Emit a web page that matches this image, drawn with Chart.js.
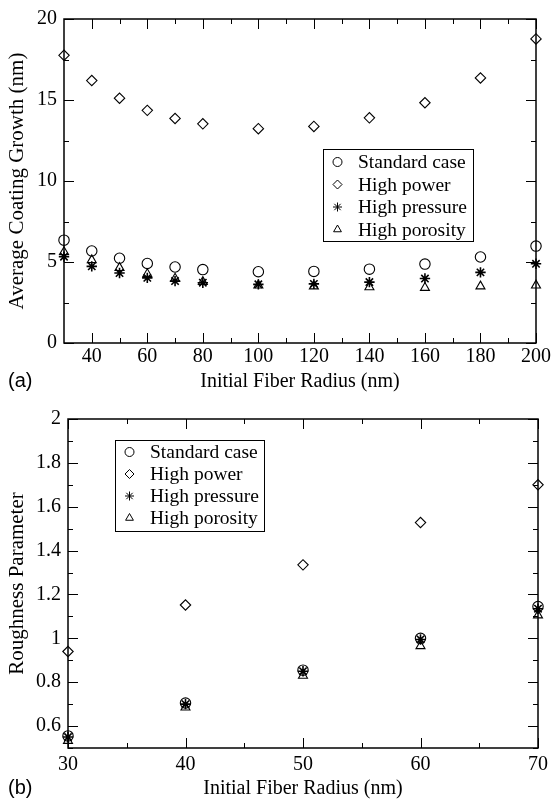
<!DOCTYPE html>
<html>
<head>
<meta charset="utf-8">
<script src="https://cdn.jsdelivr.net/npm/chart.js@4/dist/chart.umd.min.js"></script>
<style>
  html, body { margin: 0; padding: 0; background: #fff; }
  #wrap { position: relative; width: 553px; height: 804px; }
  canvas { position: absolute; left: 0; }
</style>
</head>
<body>
<div id="wrap">
  <canvas id="chartA" width="553" height="400" style="top:0"></canvas>
  <canvas id="chartB" width="553" height="404" style="top:400px"></canvas>
</div>
<script>
// panel (a): average coating growth vs initial fiber radius
const radiusA = [30, 40, 50, 60, 70, 80, 100, 120, 140, 160, 180, 200];
const standardA = [6.35, 5.68, 5.23, 4.91, 4.69, 4.53, 4.40, 4.42, 4.56, 4.87, 5.31, 5.98];
const powerA = [17.76, 16.2, 15.11, 14.36, 13.86, 13.53, 13.23, 13.37, 13.9, 14.83, 16.36, 18.77];
const pressureA = [5.33, 4.73, 4.32, 4.02, 3.82, 3.72, 3.62, 3.65, 3.76, 3.98, 4.36, 4.89];
const porosityA = [5.62, 5.12, 4.64, 4.26, 3.98, 3.78, 3.56, 3.5, 3.45, 3.41, 3.5, 3.56];
const xTicksA = [40, 60, 80, 100, 120, 140, 160, 180, 200];
const xMinorA = [50, 70, 90, 110, 130, 150, 170, 190];
const yTicksA = [0, 5, 10, 15, 20];
const yMinorA = [2.5, 7.5, 12.5, 17.5];

// panel (b): roughness parameter vs initial fiber radius
const radiusB = [30, 40, 50, 60, 70];
const standardB = [0.555, 0.705, 0.855, 1.0, 1.145];
const powerB = [0.94, 1.152, 1.335, 1.528, 1.70];
const pressureB = [0.55, 0.70, 0.85, 0.995, 1.135];
const porosityB = [0.533, 0.685, 0.83, 0.965, 1.105];
const xTicksB = [30, 40, 50, 60, 70];
const xMinorB = [35, 45, 55, 65];
const yTicksB = [0.6, 0.8, 1, 1.2, 1.4, 1.6, 1.8, 2];
const yMinorB = [0.5, 0.7, 0.9, 1.1, 1.3, 1.5, 1.7, 1.9];

const labels = ["Standard case", "High power", "High pressure", "High porosity"];
const markers = ["circle", "rectRot", "star", "triangle"];

const serif = "'Liberation Serif', 'Times New Roman', serif";
Chart.defaults.font.family = serif;
Chart.defaults.font.size = 19;
Chart.defaults.color = "#000";

function series(xs, ys, i) {
  return {
    label: labels[i],
    data: xs.map((x, k) => ({ x: x, y: ys[k] })),
    pointStyle: markers[i],
    pointRadius: 5.2,
    pointHoverRadius: 5.2,
    pointBorderWidth: markers[i] == "star" ? 1.6 : 1.1,
    borderColor: "#000",
    backgroundColor: "rgba(0,0,0,0)",
    showLine: false,
    clip: false
  };
}

// box around the plot with inward ticks on all four sides
const framePlugin = {
  id: "frame",
  beforeDatasetsDraw(chart, args, opts) {
    const { ctx, chartArea: a, scales } = chart;
    const sx = scales.x, sy = scales.y;
    ctx.save();
    ctx.strokeStyle = "#000";
    ctx.lineWidth = 1;
    ctx.beginPath();
    const vtick = (v, len) => {
      const px = Math.round(sx.getPixelForValue(v)) + 0.5;
      ctx.moveTo(px, a.bottom); ctx.lineTo(px, a.bottom - len);
      ctx.moveTo(px, a.top); ctx.lineTo(px, a.top + len);
    };
    const htick = (v, len) => {
      const py = Math.round(sy.getPixelForValue(v)) + 0.5;
      ctx.moveTo(a.left, py); ctx.lineTo(a.left + len, py);
      ctx.moveTo(a.right, py); ctx.lineTo(a.right - len, py);
    };
    sx.ticks.forEach(t => vtick(t.value, 10));
    opts.minorX.forEach(v => vtick(v, 5));
    sy.ticks.forEach(t => htick(t.value, 10));
    opts.minorY.forEach(v => htick(v, 5));
    ctx.stroke();
    ctx.lineWidth = 1.5;
    ctx.strokeRect(a.left, a.top, a.right - a.left, a.bottom - a.top);
    ctx.restore();
  },
  afterDraw(chart, args, opts) {
    const ctx = chart.ctx;
    ctx.save();
    // legend box
    const b = opts.legend;
    ctx.strokeStyle = "#000";
    ctx.lineWidth = 1;
    ctx.strokeRect(b.x + 0.5, b.y + 0.5, b.w, b.h);
    ctx.font = "19.5px " + serif;
    ctx.fillStyle = "#000";
    ctx.textBaseline = "middle";
    ctx.textAlign = "left";
    chart.data.datasets.forEach((d, i) => {
      const yy = b.row0 + i * b.step;
      ctx.save();
      ctx.fillStyle = "rgba(0,0,0,0)";
      Chart.helpers.drawPoint(ctx, { pointStyle: d.pointStyle, radius: 4.5, borderWidth: d.pointBorderWidth, rotation: 0 }, b.x + 14.5, yy);
      ctx.restore();
      ctx.fillText(d.label, b.x + 35, yy + 1);
    });
    // panel tag
    ctx.font = "20px 'Liberation Sans', Arial, sans-serif";
    ctx.fillText(opts.tag, opts.tagX, opts.tagY);
    ctx.restore();
  }
};

function build(id, xs, ys, cfg) {
  return new Chart(document.getElementById(id), {
    type: "scatter",
    data: { datasets: ys.map((s, i) => series(xs, s, i)) },
    options: {
      responsive: false,
      animation: false,
      events: [],
      layout: { padding: cfg.padding },
      plugins: {
        legend: { display: false },
        tooltip: { enabled: false },
        frame: cfg.frame
      },
      scales: {
        x: {
          type: "linear",
          min: cfg.xMin, max: cfg.xMax,
          grid: { display: false, drawTicks: false },
          border: { display: false },
          afterBuildTicks: s => { s.ticks = cfg.xTicks.map(v => ({ value: v })); },
          afterFit: s => { s.height = cfg.xHeight; },
          ticks: { padding: cfg.xPad, maxRotation: 0, autoSkip: false, font: { family: serif, size: 20 },
                   callback: v => String(+v.toFixed(2)) },
          title: { display: true, text: "Initial Fiber Radius (nm)", font: { family: serif, size: 20 },
                   padding: { top: 0, bottom: cfg.xTitlePad } }
        },
        y: {
          type: "linear",
          min: cfg.yMin, max: cfg.yMax,
          grid: { display: false, drawTicks: false },
          border: { display: false },
          afterBuildTicks: s => { s.ticks = cfg.yTicks.map(v => ({ value: v })); },
          afterFit: s => { s.width = cfg.yWidth; },
          ticks: { padding: 7, autoSkip: false, font: { family: serif, size: 20 },
                   callback: v => String(+v.toFixed(2)) },
          title: { display: true, text: cfg.yTitle, font: { family: serif, size: 21 },
                   padding: { top: 5, bottom: 0 } }
        }
      }
    },
    plugins: [framePlugin]
  });
}

build("chartA", radiusA, [standardA, powerA, pressureA, porosityA], {
  padding: { top: 13, right: 16, left: 0, bottom: 0 },
  xMin: 30, xMax: 200, yMin: 0, yMax: 20,
  xTicks: xTicksA, yTicks: yTicksA,
  xHeight: 57, yWidth: 64, xPad: 2, xTitlePad: 6,
  yTitle: "Average Coating Growth (nm)",
  frame: {
    minorX: xMinorA, minorY: yMinorA,
    legend: { x: 323, y: 149, w: 150, h: 92, row0: 162, step: 22.5 },
    tag: "(a)", tagX: 8, tagY: 381
  }
});

build("chartB", radiusB, [standardB, powerB, pressureB, porosityB], {
  padding: { top: 17, right: 11, left: 0, bottom: 0 },
  xMin: 30, xMax: 70, yMin: 0.5, yMax: 2,
  xTicks: xTicksB, yTicks: yTicksB,
  xHeight: 56, yWidth: 68, xPad: 5, xTitlePad: 3,
  yTitle: "Roughness Parameter",
  frame: {
    minorX: xMinorB, minorY: yMinorB,
    legend: { x: 115, y: 40, w: 149, h: 91, row0: 52, step: 22 },
    tag: "(b)", tagX: 8, tagY: 388
  }
});
</script>
</body>
</html>
